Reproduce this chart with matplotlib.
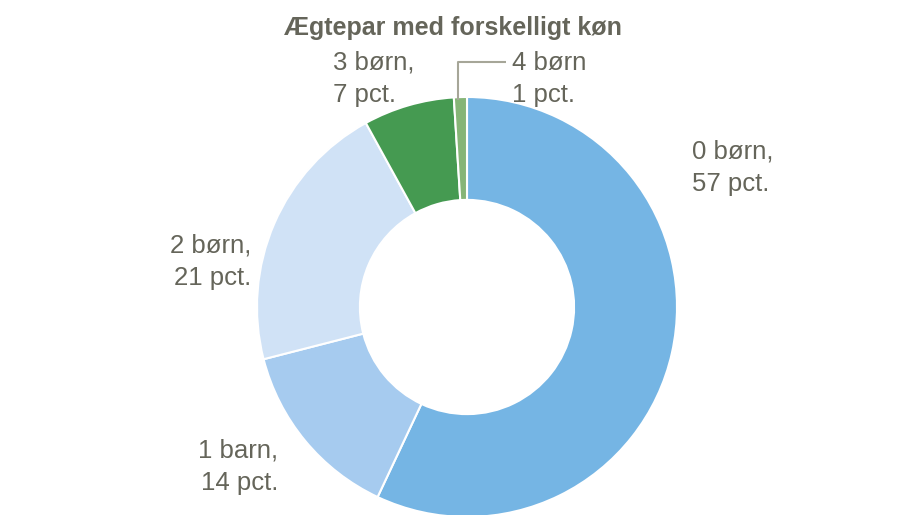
import matplotlib.pyplot as plt

plt.rcParams['font.family'] = ['Liberation Sans Narrow', 'Liberation Sans', 'DejaVu Sans']

TITLE = "Ægtepar med forskelligt køn"
categories = ["0 børn", "1 barn", "2 børn", "3 børn", "4 børn"]
shares = [57, 14, 21, 7, 1]
labels = ["0 børn,\n57 pct.", "1 barn,\n14 pct.", "2 børn,\n21 pct.", "3 børn,\n7 pct.", "4 børn\n1 pct."]
colors = ["#75B5E4", "#A6CBEF", "#D0E2F6", "#459A51", "#86B577"]
text_color = "#65655A"


def main():
    fig = plt.figure(figsize=(9, 5.15), dpi=100)
    ax = fig.add_axes([0, 0, 1, 1])

    cx, cy, r = 467, 515 - 307, 210
    ax.pie(shares, colors=colors, startangle=90, counterclock=False,
           center=(cx, cy), radius=r, frame=True,
           wedgeprops=dict(width=r * 0.49, edgecolor="white", linewidth=1.5))
    ax.set_xlim(0, 900)
    ax.set_ylim(0, 515)
    ax.set_aspect("equal")
    ax.axis("off")

    ax.text(453, 515 - 28, TITLE, ha="center", va="center", fontsize=18,
            fontweight="bold", color=text_color)

    # label positions in pixels from top-left, with alignment
    spots = [
        (692, 168, "left", "left"),
        (278, 467, "right", "right"),
        (251, 262, "right", "right"),
        (333, 79, "left", "left"),
        (512, 79, "left", "left"),
    ]
    for lab, (x, y, ha, ma) in zip(labels, spots):
        ax.text(x, 515 - y, lab, ha=ha, va="center", multialignment=ma,
                fontsize=18.5, color=text_color, linespacing=1.45)

    # leader line for the small slice
    ax.plot([458, 458, 506], [515 - 100, 515 - 62, 515 - 62],
            color="#A6A698", linewidth=1.5, solid_capstyle="butt")

    fig.savefig("out.png", dpi=100)
    plt.close(fig)


if __name__ == "__main__":
    main()
